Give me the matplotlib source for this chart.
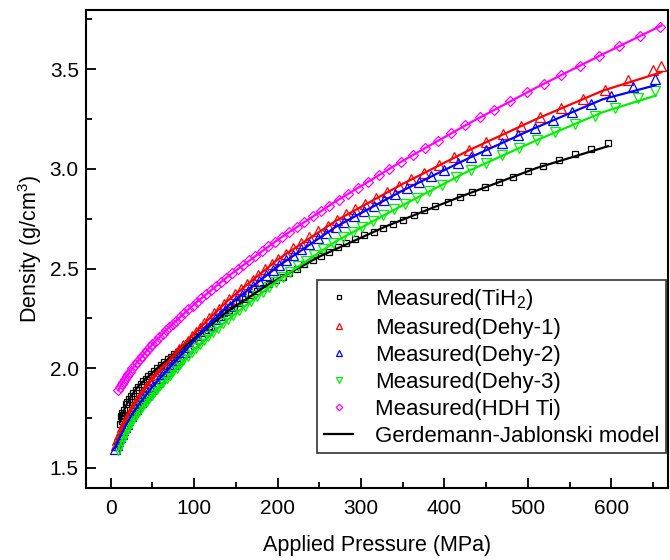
import matplotlib
matplotlib.use("Agg")
import matplotlib.pyplot as plt
from matplotlib.ticker import MultipleLocator

plt.rcParams['font.family'] = ['Liberation Sans', 'DejaVu Sans']
plt.rcParams['mathtext.fontset'] = 'custom'
plt.rcParams['mathtext.rm'] = 'Liberation Sans'

p_tih2 = [596, 576, 556, 537, 518, 500, 482, 465, 449, 433, 419, 404, 389, 376, 363, 350, 338, 326,
          315, 304, 293, 282, 272, 262, 252, 242, 232, 223, 214, 206, 198, 190, 182, 175, 168, 161,
          154, 148, 142, 136, 130, 124, 118, 113, 108, 103, 98, 93, 88, 84, 80, 76, 72, 68, 64, 60,
          56, 52, 48, 45, 42, 39, 36, 33, 30, 27, 24, 22, 20, 18, 16, 14, 13, 12, 11, 13, 15]
d_tih2 = [3.132, 3.102, 3.074, 3.046, 3.017, 2.989, 2.961, 2.934, 2.909, 2.884, 2.860, 2.836, 2.812,
          2.792, 2.768, 2.745, 2.724, 2.704, 2.685, 2.666, 2.647, 2.626, 2.606, 2.585, 2.564, 2.543,
          2.522, 2.500, 2.479, 2.460, 2.442, 2.423, 2.404, 2.385, 2.365, 2.346, 2.326, 2.309, 2.292,
          2.275, 2.258, 2.238, 2.210, 2.194, 2.179, 2.157, 2.141, 2.125, 2.108, 2.096, 2.083, 2.070,
          2.057, 2.044, 2.031, 2.017, 2.002, 1.988, 1.972, 1.960, 1.948, 1.935, 1.922, 1.908, 1.893,
          1.876, 1.860, 1.845, 1.830, 1.822, 1.790, 1.775, 1.748, 1.760, 1.720, 1.735, 1.765]

p_dehy1 = [660, 650, 620, 592, 566, 540, 515, 492, 470, 450, 430, 412, 394, 376, 360, 345, 331, 318,
           305, 293, 282, 271, 260, 249, 238, 228, 219, 210, 201, 193, 185, 177, 170, 163, 156, 149,
           142, 136, 130, 124, 118, 112, 107, 102, 97, 92, 87, 82, 78, 74, 70, 66, 62, 58, 54, 50,
           47, 44, 41, 38, 35, 32, 29, 26, 23, 20, 18, 16, 14, 12, 10, 8, 6]
d_dehy1 = [3.515, 3.497, 3.444, 3.397, 3.351, 3.305, 3.260, 3.217, 3.174, 3.135, 3.095, 3.058, 3.020,
           2.982, 2.947, 2.914, 2.883, 2.855, 2.826, 2.800, 2.772, 2.745, 2.716, 2.687, 2.657, 2.628,
           2.602, 2.575, 2.548, 2.522, 2.498, 2.470, 2.445, 2.421, 2.396, 2.371, 2.345, 2.322, 2.299,
           2.276, 2.250, 2.225, 2.204, 2.183, 2.162, 2.139, 2.117, 2.094, 2.076, 2.058, 2.040, 2.022,
           2.004, 1.985, 1.965, 1.945, 1.929, 1.912, 1.896, 1.878, 1.860, 1.842, 1.823, 1.802, 1.780,
           1.757, 1.740, 1.723, 1.705, 1.685, 1.665, 1.640, 1.615]

p_dehy2 = [653, 626, 600, 576, 553, 530, 509, 488, 469, 450, 432, 416, 399, 384, 369, 355, 341, 328,
           315, 303, 291, 280, 270, 258, 248, 238, 228, 219, 210, 202, 194, 186, 178, 171, 164, 157,
           150, 143, 137, 131, 125, 119, 113, 108, 103, 98, 93, 88, 83, 79, 75, 71, 67, 63, 59, 55,
           51, 48, 45, 42, 39, 36, 33, 30, 27, 24, 21, 19, 17, 15, 13, 11, 9, 7, 5]
d_dehy2 = [3.452, 3.410, 3.366, 3.328, 3.287, 3.245, 3.206, 3.168, 3.131, 3.095, 3.060, 3.028, 2.993,
           2.963, 2.932, 2.902, 2.873, 2.844, 2.815, 2.789, 2.762, 2.734, 2.710, 2.680, 2.654, 2.625,
           2.597, 2.570, 2.541, 2.516, 2.491, 2.466, 2.439, 2.414, 2.389, 2.365, 2.340, 2.314, 2.291,
           2.268, 2.245, 2.219, 2.193, 2.172, 2.151, 2.129, 2.104, 2.081, 2.059, 2.041, 2.023, 2.005,
           1.987, 1.969, 1.950, 1.931, 1.912, 1.897, 1.881, 1.866, 1.849, 1.832, 1.814, 1.797, 1.778,
           1.758, 1.738, 1.722, 1.706, 1.690, 1.672, 1.654, 1.636, 1.617, 1.597]

p_dehy3 = [653, 632, 605, 580, 556, 533, 511, 489, 469, 450, 432, 414, 397, 382, 367, 353, 340, 326,
           314, 301, 290, 278, 266, 255, 244, 234, 224, 215, 206, 198, 190, 182, 175, 168, 161, 154,
           147, 141, 135, 129, 123, 117, 112, 107, 102, 97, 92, 87, 83, 79, 75, 71, 67, 63, 59, 55,
           52, 49, 46, 43, 40, 37, 34, 31, 28, 25, 23, 21, 19, 17, 15, 13, 11, 9]
d_dehy3 = [3.392, 3.355, 3.308, 3.268, 3.226, 3.185, 3.146, 3.106, 3.069, 3.032, 2.996, 2.958, 2.919,
           2.887, 2.855, 2.825, 2.797, 2.767, 2.740, 2.710, 2.685, 2.657, 2.627, 2.598, 2.568, 2.540,
           2.512, 2.485, 2.458, 2.434, 2.408, 2.383, 2.360, 2.337, 2.314, 2.291, 2.267, 2.246, 2.225,
           2.204, 2.182, 2.161, 2.141, 2.122, 2.103, 2.082, 2.061, 2.039, 2.021, 2.003, 1.985, 1.967,
           1.949, 1.931, 1.914, 1.896, 1.880, 1.865, 1.850, 1.836, 1.820, 1.804, 1.787, 1.771, 1.754,
           1.733, 1.719, 1.704, 1.688, 1.672, 1.655, 1.637, 1.615, 1.589]

p_hdh = [658, 634, 609, 585, 562, 540, 519, 499, 479, 460, 443, 425, 408, 392, 377, 362, 348, 334,
         321, 308, 296, 284, 273, 262, 252, 242, 232, 223, 214, 205, 197, 189, 181, 173, 166, 159,
         152, 145, 138, 132, 126, 120, 114, 108, 103, 98, 93, 88, 83, 78, 74, 70, 66, 62, 58, 54,
         50, 47, 44, 41, 38, 35, 32, 29, 26, 23, 21, 19, 17, 15, 13, 11, 9]
d_hdh = [3.714, 3.665, 3.616, 3.567, 3.518, 3.471, 3.427, 3.384, 3.340, 3.298, 3.259, 3.219, 3.179,
         3.141, 3.106, 3.070, 3.036, 3.002, 2.969, 2.936, 2.906, 2.875, 2.846, 2.816, 2.789, 2.762,
         2.735, 2.710, 2.684, 2.659, 2.635, 2.611, 2.588, 2.563, 2.542, 2.520, 2.498, 2.476, 2.453,
         2.433, 2.413, 2.392, 2.371, 2.350, 2.332, 2.314, 2.296, 2.277, 2.258, 2.238, 2.222, 2.206,
         2.190, 2.172, 2.155, 2.138, 2.120, 2.106, 2.092, 2.078, 2.063, 2.048, 2.033, 2.017, 2.000,
         1.983, 1.971, 1.959, 1.947, 1.933, 1.920, 1.905, 1.890]

# ---- Gerdemann-Jablonski model curves ----
pm_tih2 = [11, 14, 18, 24, 32, 45, 60, 80, 105, 140, 190, 250, 330, 420, 510, 596]
dm_tih2 = [1.730, 1.770, 1.810, 1.857, 1.905, 1.958, 2.017, 2.083, 2.165, 2.286, 2.423, 2.560,
           2.712, 2.862, 3.004, 3.114]
pm_dehy1 = [5, 8, 12, 18, 25, 35, 50, 70, 100, 140, 200, 270, 350, 430, 510, 590, 660]
dm_dehy1 = [1.600, 1.640, 1.685, 1.740, 1.795, 1.860, 1.945, 2.040, 2.175, 2.338, 2.545, 2.740,
            2.925, 3.095, 3.250, 3.393, 3.485]
pm_dehy2 = [5, 8, 12, 18, 25, 35, 50, 70, 100, 140, 200, 270, 350, 430, 510, 590, 653]
dm_dehy2 = [1.597, 1.627, 1.663, 1.714, 1.765, 1.826, 1.907, 2.000, 2.138, 2.310, 2.510, 2.710,
            2.892, 3.056, 3.208, 3.350, 3.420]
pm_dehy3 = [9, 12, 17, 25, 35, 50, 70, 100, 140, 200, 270, 350, 430, 510, 590, 653]
dm_dehy3 = [1.589, 1.625, 1.672, 1.733, 1.793, 1.870, 1.962, 2.095, 2.243, 2.440, 2.637, 2.818,
            2.992, 3.143, 3.285, 3.368]
pm_hdh = [9, 13, 18, 25, 35, 50, 70, 100, 140, 200, 270, 350, 430, 510, 590, 660]
dm_hdh = [1.890, 1.920, 1.953, 1.995, 2.048, 2.120, 2.206, 2.321, 2.459, 2.644, 2.838, 3.041,
          3.230, 3.408, 3.576, 3.719]

fig = plt.figure(figsize=(6.7, 5.6), dpi=100)
ax = fig.add_axes([0.128, 0.129, 0.869, 0.854])

mk = dict(linestyle='none', markerfacecolor='none', markeredgewidth=0.9)
ax.plot(p_tih2, d_tih2, marker='s', markersize=5, color='black', label='Measured(TiH$_2$)', **mk)
ax.plot(p_dehy1, d_dehy1, marker='^', markersize=7, color='#ff0000', label='Measured(Dehy-1)', **mk)
ax.plot(p_dehy2, d_dehy2, marker='^', markersize=7, color='#0000ff', label='Measured(Dehy-2)', **mk)
ax.plot(p_dehy3, d_dehy3, marker='v', markersize=7, color='#00ee00', label='Measured(Dehy-3)', **mk)
ax.plot(p_hdh, d_hdh, marker='D', markersize=5.5, color='#ff00ff', label='Measured(HDH Ti)', **mk)

ax.plot(pm_tih2, dm_tih2, color='black', lw=1.6, label='Gerdemann-Jablonski model')
ax.plot(pm_dehy1, dm_dehy1, color='#ff0000', lw=1.6)
ax.plot(pm_dehy2, dm_dehy2, color='#0000ff', lw=1.6)
ax.plot(pm_dehy3, dm_dehy3, color='#00ee00', lw=1.6)
ax.plot(pm_hdh, dm_hdh, color='#ff00ff', lw=1.6)

ax.set_xlim(-30, 668)
ax.set_ylim(1.4, 3.8)
ax.xaxis.set_major_locator(MultipleLocator(100))
ax.xaxis.set_minor_locator(MultipleLocator(50))
ax.yaxis.set_major_locator(MultipleLocator(0.5))
ax.yaxis.set_minor_locator(MultipleLocator(0.25))
ax.tick_params(which='both', direction='in', labelsize=15, width=1.3)
ax.tick_params(which='major', length=7)
ax.tick_params(which='minor', length=4)
ax.tick_params(axis='x', which='major', pad=8)
ax.tick_params(axis='y', which='major', pad=5)
for s in ax.spines.values():
    s.set_linewidth(1.5)

ax.set_xlabel('Applied Pressure (MPa)', fontsize=15.5, labelpad=12)
ax.set_ylabel('Density (g/cm$^3$)', fontsize=15.5, labelpad=4)

leg = ax.legend(loc='lower right', bbox_to_anchor=(0.997, 0.072), fontsize=16, frameon=True,
                fancybox=False, edgecolor='black', handlelength=1.3, markerscale=0.6,
                labelspacing=0.27, borderpad=0.3, handletextpad=1.0, borderaxespad=0)
leg.get_frame().set_linewidth(1.2)

fig.savefig('out.png', dpi=100)
